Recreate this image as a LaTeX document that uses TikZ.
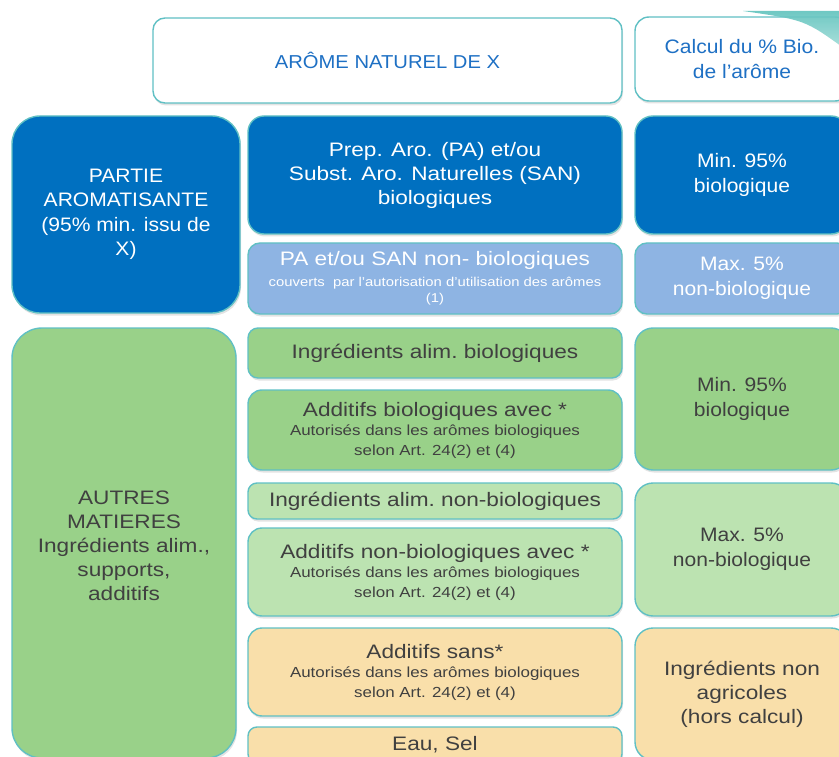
\documentclass[tikz,border=0pt]{standalone}
\usepackage{fontspec}
\setmainfont{Liberation Sans}[FakeStretch=1.08]
\newfontfamily\robolike{Liberation Sans}[FakeStretch=1.16]
\usetikzlibrary{shadows}

\definecolor{tealline}{RGB}{96,192,196}
\definecolor{darkblue}{RGB}{0,112,192}
\definecolor{lightblue}{RGB}{142,180,227}
\definecolor{bioGreen}{RGB}{153,209,137}
\definecolor{paleGreen}{RGB}{188,227,177}
\definecolor{sand}{RGB}{249,223,170}
\definecolor{headblue}{RGB}{30,112,196}
\definecolor{darktext}{RGB}{64,64,64}
\definecolor{accenttop}{RGB}{95,194,189}
\definecolor{accentbot}{RGB}{165,222,217}

\newcommand\colfont{\fontsize{19.5}{24.5}\selectfont}
\newcommand\titlefont{\fontsize{18.7}{24}\selectfont}
\newcommand\bodyfont{\robolike\fontsize{19.5}{24}\selectfont}
\newcommand\subfont{\robolike\fontsize{14.6}{19.5}\selectfont}
\newcommand\tinyfont{\robolike\fontsize{12.8}{16.5}\selectfont}

\tikzset{
  box/.style={draw=tealline, line width=1.4pt, inner sep=0pt, align=center,
    drop shadow={opacity=.22, shadow xshift=1pt, shadow yshift=-2.5pt}},
  headbox/.style={box, fill=white, text=headblue, font=\colfont},
  darkbox/.style={box, fill=darkblue, text=white},
  lightbox/.style={box, fill=lightblue, text=white},
  greenbox/.style={box, fill=bioGreen, text=darktext},
  palebox/.style={box, fill=paleGreen, text=darktext},
  sandbox/.style={box, fill=sand, text=darktext},
}

\begin{document}
\begin{tikzpicture}[x=1pt,y=-1pt]
\useasboundingbox (0,0) rectangle (839,757);
\clip (0,0) rectangle (839,757);
% column headers
\node[headbox, rounded corners=12pt, minimum width=469pt, minimum height=85pt, font=\titlefont] (arome) at (387.5,60.5) {ARÔME NATUREL DE X};
\node[headbox, rounded corners=14pt, minimum width=214pt, minimum height=84pt] (calcul) at (742,59) {Calcul du \% Bio.\\de l’arôme};
\shade[top color=accenttop, bottom color=accentbot, opacity=.9] (743,11) -- (845,11) -- (845,49) .. controls (805,20) .. (743,11);
% partie aromatisante
\node[darkbox, rounded corners=28pt, minimum width=228pt, minimum height=197pt, font=\colfont] (partie) at (126,214.5) {PARTIE\\AROMATISANTE\\(95\% min. issu de\\X)};
\node[darkbox, rounded corners=16pt, minimum width=374pt, minimum height=118pt, font=\bodyfont] (prepbio) at (435,175) {Prep. Aro. (PA) et/ou\\Subst. Aro. Naturelles (SAN)\\biologiques};
\node[darkbox, rounded corners=18pt, minimum width=214pt, minimum height=118pt, font=\colfont] (minaro) at (742,175) {Min. 95\%\\biologique};
\node[lightbox, rounded corners=12pt, minimum width=374pt, minimum height=71pt, font=\tinyfont] (prepnon) at (435,278.5) {\bodyfont PA et/ou SAN non- biologiques\\[4pt]couverts\ \ par l’autorisation d’utilisation des arômes\\(1)};
\node[lightbox, rounded corners=12pt, minimum width=214pt, minimum height=71pt, font=\colfont] (maxaro) at (742,278.5) {Max. 5\%\\non-biologique};
% autres matieres
\node[greenbox, rounded corners=30pt, minimum width=224pt, minimum height=430pt] (autres) at (124,543) {};
\node[text=darktext, align=center, font=\bodyfont] (autrestxt) at (124,545.5) {AUTRES\\MATIERES\\Ingrédients alim.,\\supports,\\additifs};
\node[greenbox, rounded corners=10pt, minimum width=374pt, minimum height=50pt, font=\bodyfont] (ingbio) at (435,353) {Ingrédients alim.\ biologiques};
\node[greenbox, rounded corners=14pt, minimum width=374pt, minimum height=80pt, font=\subfont] (addbio) at (435,430) {\bodyfont Additifs biologiques avec *\\[0pt]Autorisés dans les arômes biologiques\\selon Art. 24(2) et (4)};
\node[greenbox, rounded corners=18pt, minimum width=214pt, minimum height=142pt, font=\colfont] (minautres) at (742,399) {Min. 95\%\\biologique};
\node[palebox, rounded corners=9pt, minimum width=374pt, minimum height=36pt, font=\bodyfont] (ingnon) at (435,501) {Ingrédients alim.\ non-biologiques};
\node[palebox, rounded corners=14pt, minimum width=374pt, minimum height=88pt, font=\subfont] (addnon) at (435,572) {\bodyfont Additifs non-biologiques avec *\\[0pt]Autorisés dans les arômes biologiques\\selon Art. 24(2) et (4)};
\node[palebox, rounded corners=18pt, minimum width=214pt, minimum height=133pt, font=\colfont] (maxautres) at (742,549.5) {Max. 5\%\\non-biologique};
% hors calcul
\node[sandbox, rounded corners=14pt, minimum width=374pt, minimum height=88pt, font=\subfont] (addsans) at (435,672) {\bodyfont Additifs sans*\\[0pt]Autorisés dans les arômes biologiques\\selon Art. 24(2) et (4)};
\node[sandbox, rounded corners=9pt, minimum width=374pt, minimum height=36pt, font=\bodyfont] (eausel) at (435,745) {Eau, Sel};
\node[sandbox, rounded corners=18pt, minimum width=214pt, minimum height=132pt, font=\bodyfont] (nonagri) at (742,694) {Ingrédients non\\agricoles\\(hors calcul)};
\end{tikzpicture}
\end{document}
